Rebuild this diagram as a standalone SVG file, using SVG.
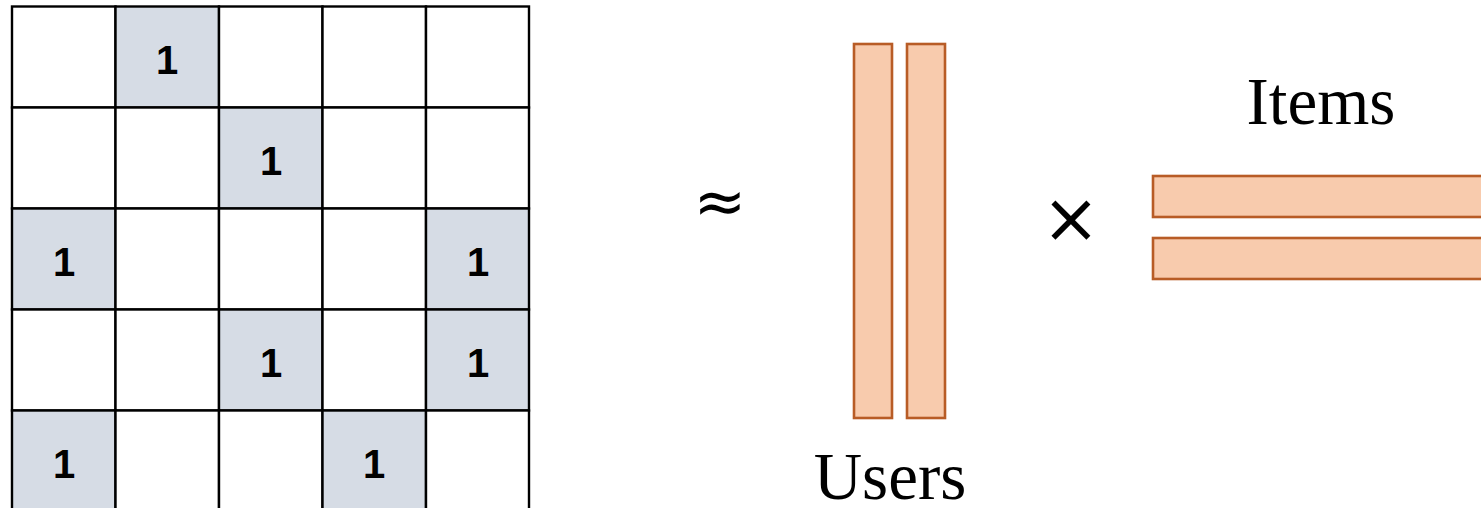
<svg xmlns="http://www.w3.org/2000/svg" width="1481" height="508" viewBox="0 0 1481 508">
  <style>
    .cell { fill: #ffffff; stroke: #000000; stroke-width: 2.4; }
    .hit { fill: #D6DCE5; stroke: #000000; stroke-width: 2.4; }
    .one { font-family: "Liberation Sans", Arial, sans-serif; font-weight: bold; font-size: 40px; text-anchor: middle; fill: #000; }
    .factor { fill: #F8CBAD; stroke: #B85C26; stroke-width: 2.6; }
    .label { font-family: "Liberation Serif", "Times New Roman", serif; font-size: 67px; text-anchor: middle; fill: #000; }
    .op { font-family: "DejaVu Sans", sans-serif; text-anchor: middle; fill: #000; }
  </style>

  <!-- Interaction matrix: 5 x 5 grid, shaded cells hold observed interactions -->
  <g id="matrix">
    <g id="row0">
      <rect class="cell" x="12" y="6.5" width="103.5" height="101"/>
      <rect class="hit" x="115.5" y="6.5" width="103.5" height="101"/>
      <rect class="cell" x="219" y="6.5" width="103.5" height="101"/>
      <rect class="cell" x="322.5" y="6.5" width="103.5" height="101"/>
      <rect class="cell" x="426" y="6.5" width="103" height="101"/>
    </g>
    <g id="row1">
      <rect class="cell" x="12" y="107.5" width="103.5" height="101"/>
      <rect class="cell" x="115.5" y="107.5" width="103.5" height="101"/>
      <rect class="hit" x="219" y="107.5" width="103.5" height="101"/>
      <rect class="cell" x="322.5" y="107.5" width="103.5" height="101"/>
      <rect class="cell" x="426" y="107.5" width="103" height="101"/>
    </g>
    <g id="row2">
      <rect class="hit" x="12" y="208.5" width="103.5" height="101"/>
      <rect class="cell" x="115.5" y="208.5" width="103.5" height="101"/>
      <rect class="cell" x="219" y="208.5" width="103.5" height="101"/>
      <rect class="cell" x="322.5" y="208.5" width="103.5" height="101"/>
      <rect class="hit" x="426" y="208.5" width="103" height="101"/>
    </g>
    <g id="row3">
      <rect class="cell" x="12" y="309.5" width="103.5" height="101"/>
      <rect class="cell" x="115.5" y="309.5" width="103.5" height="101"/>
      <rect class="hit" x="219" y="309.5" width="103.5" height="101"/>
      <rect class="cell" x="322.5" y="309.5" width="103.5" height="101"/>
      <rect class="hit" x="426" y="309.5" width="103" height="101"/>
    </g>
    <g id="row4">
      <rect class="hit" x="12" y="410.5" width="103.5" height="101"/>
      <rect class="cell" x="115.5" y="410.5" width="103.5" height="101"/>
      <rect class="cell" x="219" y="410.5" width="103.5" height="101"/>
      <rect class="hit" x="322.5" y="410.5" width="103.5" height="101"/>
      <rect class="cell" x="426" y="410.5" width="103" height="101"/>
    </g>
    <g id="values">
      <text class="one" x="167" y="74">1</text>
      <text class="one" x="271" y="175">1</text>
      <text class="one" x="64" y="276">1</text>
      <text class="one" x="478" y="276">1</text>
      <text class="one" x="271" y="377">1</text>
      <text class="one" x="478" y="377">1</text>
      <text class="one" x="64" y="478">1</text>
      <text class="one" x="374" y="478">1</text>
    </g>
  </g>

  <!-- approximately equals -->
  <g id="approx">
    <text class="op" x="720" y="223" font-size="63">≈</text>
  </g>

  <!-- User factor vectors -->
  <g id="users">
    <rect class="factor" x="854" y="44" width="38" height="374"/>
    <rect class="factor" x="907" y="44" width="38" height="374"/>
    <text class="label" x="890" y="499">Users</text>
  </g>

  <!-- multiplication -->
  <g id="times">
    <text class="op" x="1071" y="242" font-size="69">×</text>
  </g>

  <!-- Item factor vectors -->
  <g id="items">
    <rect class="factor" x="1153" y="176" width="400" height="41"/>
    <rect class="factor" x="1153" y="238" width="400" height="41"/>
    <text class="label" x="1321" y="124">Items</text>
  </g>

  <g id="connectors"/>
</svg>
